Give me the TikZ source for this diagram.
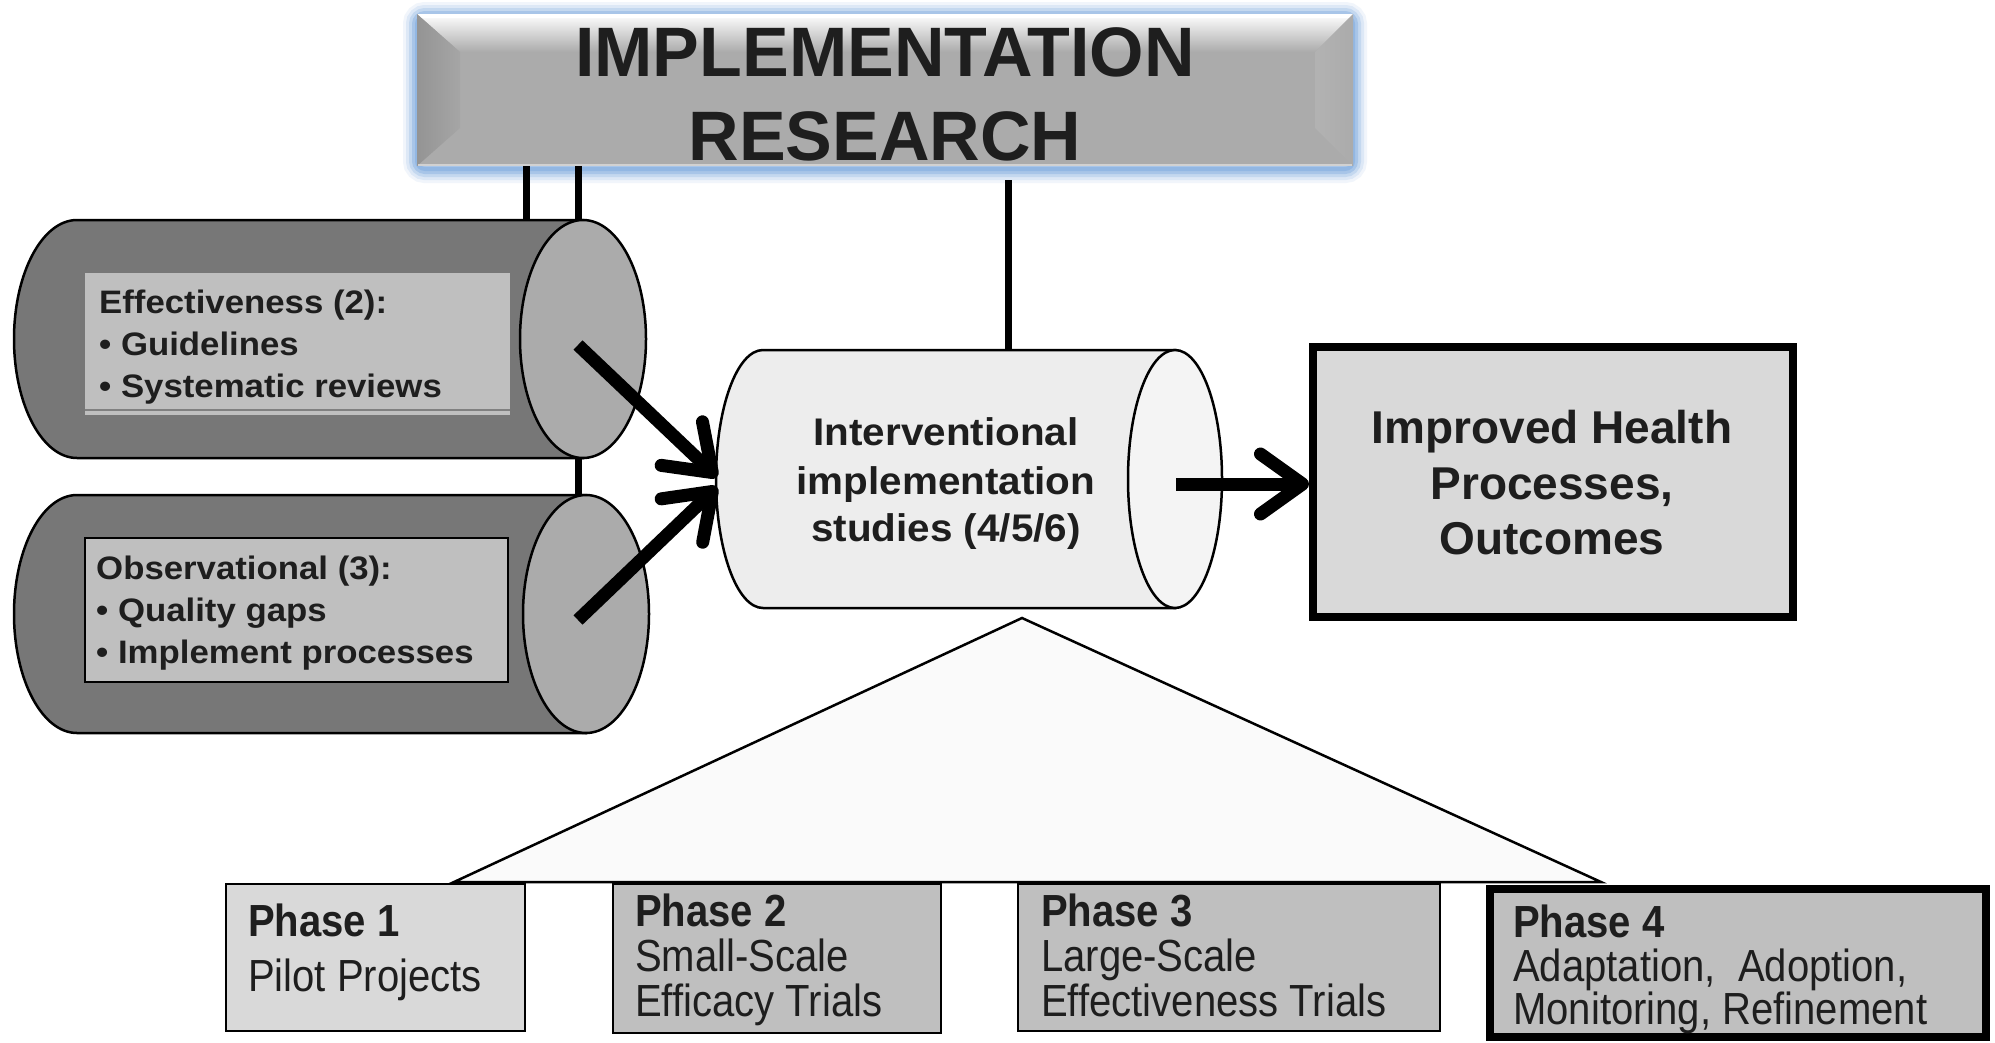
\documentclass[tikz,border=0pt]{standalone}
\usepackage{fontspec}
\setmainfont{Liberation Sans}
\newfontfamily\condfont[FakeStretch=0.89]{Liberation Sans}
\newfontfamily\midfont[FakeStretch=1.05]{Liberation Sans}
\newfontfamily\leftfont[FakeStretch=1.07]{Liberation Sans}
\usetikzlibrary{arrows.meta}
\definecolor{txt}{HTML}{1E1E1E}
\definecolor{cyldark}{HTML}{777777}
\definecolor{cylface}{HTML}{ABABAB}
\definecolor{boxlight}{HTML}{BFBFBF}
\definecolor{boxpale}{HTML}{D9D9D9}
\definecolor{midbody}{HTML}{EDEDED}
\definecolor{midface}{HTML}{F4F4F4}
\definecolor{glow}{HTML}{8DB4E2}
\definecolor{titlegray}{HTML}{ABABAB}
\definecolor{trifill}{HTML}{FAFAFA}
\begin{document}
\begin{tikzpicture}[x=1pt,y=-1pt,
  outline/.style={draw=black, line width=2.5pt},
  bigarrow/.style={line width=13pt, -{Straight Barb[length=42pt,width=60pt,round]}},
  connline/.style={line width=7pt, black},
  lefttxt/.style={anchor=base west, inner sep=0pt, text=txt, font=\leftfont\bfseries\fontsize{32.5}{40}\selectfont},
  midtxt/.style={anchor=base, inner sep=0pt, text=txt, font=\midfont\bfseries\fontsize{38.5}{48}\selectfont},
  outtxt/.style={anchor=base, inner sep=0pt, text=txt, font=\bfseries\fontsize{46}{55}\selectfont},
  phasehead/.style={anchor=base west, inner sep=0pt, text=txt, font=\condfont\bfseries\fontsize{45}{44}\selectfont},
  phasetxt/.style={anchor=base west, inner sep=0pt, text=txt, font=\condfont\fontsize{45}{44}\selectfont},
  titletxt/.style={anchor=base, inner sep=0pt, text=txt, font=\bfseries\fontsize{70}{84}\selectfont}]
\useasboundingbox (0,0) rectangle (1995,1042);
\fill[white] (0,0) rectangle (1995,1042);

% ---------- title box ----------
\foreach \w/\o in {28/0.12, 22/0.2, 16/0.3, 10/0.5, 4/0.8}
  \draw[glow, line width=\w pt, opacity=\o, rounded corners=8pt] (417,16) rectangle (1353,169);
\fill[titlegray] (417,14) rectangle (1353,166);
\shade[top color=white, bottom color=titlegray] (417,14) -- (1353,14) -- (1315,52) -- (460,52) -- cycle;
\fill[white] (417,14) -- (1353,14) -- (1349,18) -- (421,18) -- cycle;
\shade[left color=black!42, right color=black!35] (417,14) -- (460,52) -- (460,128) -- (417,166) -- cycle;
\shade[left color=black!30, right color=black!33] (1353,14) -- (1315,52) -- (1315,128) -- (1353,166) -- cycle;
\draw[black!18, line width=2pt] (418,165) -- (1352,165);
\coordinate (titleL1) at (526,166);
\coordinate (titleL2) at (578,166);
\coordinate (titleM) at (1008,180);
\node[titletxt] (title1) at (885,76) {IMPLEMENTATION};
\node[titletxt] (title2) at (885,160) {RESEARCH};

% ---------- connector lines behind shapes ----------
\coordinate (cylAtop1) at (526,222);
\coordinate (cylBtop) at (578,497);
\coordinate (midtop) at (1008,352);
\draw[connline] (titleL1) -- (cylAtop1);
\draw[connline] (titleL2) -- (cylBtop);
\draw[connline] (titleM) -- (midtop);

% ---------- left cylinder A ----------
\filldraw[fill=cyldark, outline] (77,220) -- (583,220) -- (583,458) -- (77,458)
  arc[start angle=270, end angle=90, x radius=63pt, y radius=119pt] -- cycle;
\filldraw[fill=cylface, outline] (583,339) ellipse[x radius=63pt, y radius=119pt];
\fill[boxlight] (85,273) rectangle (510,415);
\draw[black!50, line width=1.5pt] (85,410) -- (510,410);
\node[lefttxt] (effh) at (99,313) {Effectiveness (2):};
\node[lefttxt] (effa) at (99,355) {• Guidelines};
\node[lefttxt] (effb) at (99,397) {• Systematic reviews};

% ---------- left cylinder B ----------
\filldraw[fill=cyldark, outline] (77,495) -- (586,495) -- (586,733) -- (77,733)
  arc[start angle=270, end angle=90, x radius=63pt, y radius=119pt] -- cycle;
\filldraw[fill=cylface, outline] (586,614) ellipse[x radius=63pt, y radius=119pt];
\filldraw[fill=boxlight, draw=black, line width=2pt] (85,538) rectangle (508,682);
\node[lefttxt] (obsh) at (96,579) {Observational (3):};
\node[lefttxt] (obsa) at (96,621) {• Quality gaps};
\node[lefttxt] (obsb) at (96,663) {• Implement processes};

% ---------- triangle ----------
\coordinate (apex) at (1022,618);
\coordinate (baseL) at (454,882);
\coordinate (baseR) at (1601,882);
\filldraw[fill=trifill, draw=black, line width=2.5pt] (apex) -- (baseL) -- (baseR) -- cycle;

% ---------- middle cylinder ----------
\filldraw[fill=midbody, outline] (763,350) -- (1175,350) -- (1175,608) -- (763,608)
  arc[start angle=270, end angle=90, x radius=47pt, y radius=129pt] -- cycle;
\filldraw[fill=midface, outline] (1175,479) ellipse[x radius=47pt, y radius=129pt];
\node[midtxt] (mid1) at (946,445) {Interventional};
\node[midtxt] (mid2) at (946,494) {implementation};
\node[midtxt] (mid3) at (946,541) {studies (4/5/6)};

% ---------- outcome box ----------
\node[draw=black, fill=boxpale, line width=8pt, rectangle, inner sep=0pt,
      minimum width=480pt, minimum height=270pt] (outcome) at (1553,482) {};
\node[outtxt] (out1) at (1552,443) {Improved Health};
\node[outtxt] (out2) at (1552,499) {Processes,};
\node[outtxt] (out3) at (1552,554) {Outcomes};

% ---------- arrows ----------
\coordinate (a1s) at (578,345);
\coordinate (a1e) at (717,477);
\coordinate (a2s) at (578,620);
\coordinate (a2e) at (717,487);
\coordinate (a3s) at (1176,484);
\draw[bigarrow] (a1s) -- (a1e);
\draw[bigarrow] (a2s) -- (a2e);
\draw[bigarrow] (a3s) -- (outcome.west |- a3s);

% ---------- phase boxes ----------
\filldraw[fill=boxpale, draw=black, line width=2pt] (226,884) rectangle (525,1031);
\node[phasehead] (p1h) at (248,936) {Phase 1};
\node[phasetxt] (p1a) at (248,991) {Pilot Projects};

\filldraw[fill=boxlight, draw=black, line width=2pt] (613,884) rectangle (941,1033);
\node[phasehead] (p2h) at (635,926) {Phase 2};
\node[phasetxt] (p2a) at (635,971) {Small-Scale};
\node[phasetxt] (p2b) at (635,1016) {Efficacy Trials};

\filldraw[fill=boxlight, draw=black, line width=2pt] (1018,884) rectangle (1440,1031);
\node[phasehead] (p3h) at (1041,926) {Phase 3};
\node[phasetxt] (p3a) at (1041,971) {Large-Scale};
\node[phasetxt] (p3b) at (1041,1016) {Effectiveness Trials};

\filldraw[fill=boxlight, draw=black, line width=8pt] (1490,889) rectangle (1986,1037);
\node[phasehead] (p4h) at (1513,937) {Phase 4};
\node[phasetxt] (p4a) at (1513,981) {Adaptation,\ \ Adoption,};
\node[phasetxt] (p4b) at (1513,1024) {Monitoring, Refinement};
\end{tikzpicture}
\end{document}
